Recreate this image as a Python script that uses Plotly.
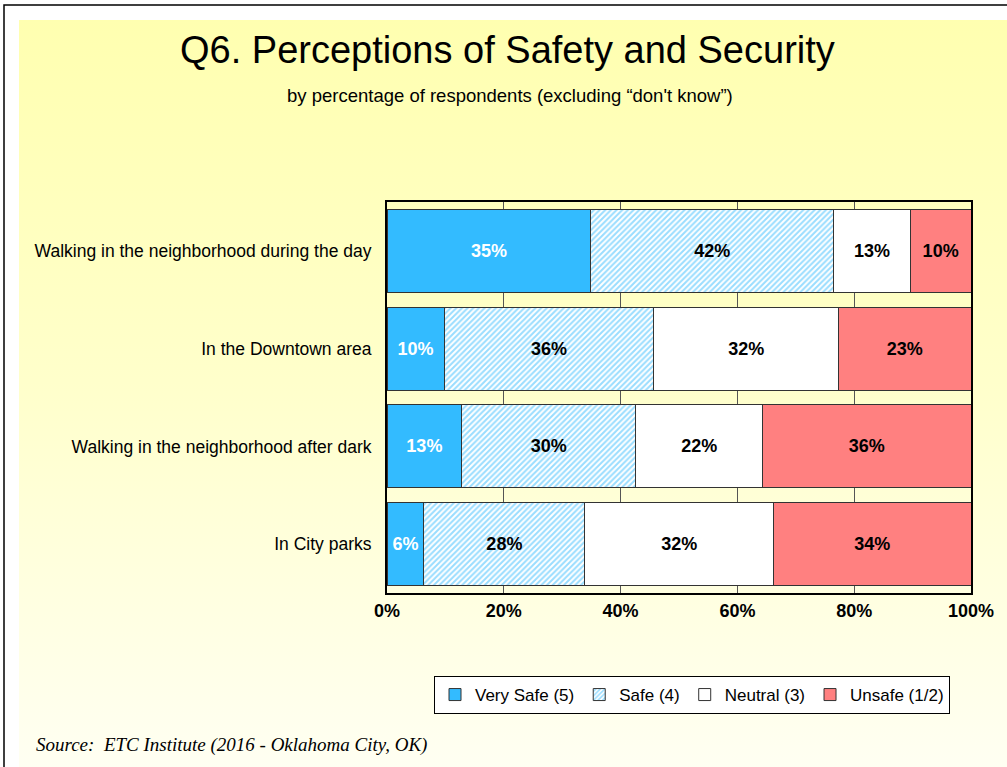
import base64
import plotly.graph_objects as go

categories = [
    "Walking in the neighborhood during the day",
    "In the Downtown area",
    "Walking in the neighborhood after dark",
    "In City parks",
]
series_names = ["Very Safe (5)", "Safe (4)", "Neutral (3)", "Unsafe (1/2)"]
very_safe = [34.9, 9.8, 12.8, 6.3]
safe = [41.6, 35.9, 29.8, 27.6]
neutral = [13.1, 31.6, 21.7, 32.3]
unsafe = [10.4, 22.7, 35.7, 33.8]
x_ticks = [0, 20, 40, 60, 80, 100]
x_tick_labels = ["0%", "20%", "40%", "60%", "80%", "100%"]

W, H = 1007, 767
L, R, T, B = 387, 971, 202, 593
FONT = "Arial, Liberation Sans, sans-serif"


def px(x):
    return (x - L) / (R - L)


def py(y):
    return (B - y) / (B - T)


fig = go.Figure()

styles = [
    dict(color="#33BBFF", textcolor="white", pattern=None),
    dict(color="white", textcolor="black",
         pattern=dict(shape="/", fgcolor="#33BBFF", bgcolor="white", size=4, solidity=0.5)),
    dict(color="white", textcolor="black", pattern=None),
    dict(color="#FF8080", textcolor="black", pattern=None),
]
for name, vals, st in zip(series_names, [very_safe, safe, neutral, unsafe], styles):
    marker = dict(color=st["color"], line=dict(color="#333333", width=1))
    if st["pattern"]:
        marker["pattern"] = st["pattern"]
    fig.add_trace(go.Bar(
        y=categories, x=vals, name=name, orientation="h",
        marker=marker,
        texttemplate="%{x:.0f}%", textposition="inside", insidetextanchor="middle",
        textangle=0, constraintext="none",
        textfont=dict(family=FONT, size=18, color=st["textcolor"], weight="bold"),
    ))

svg = (
    '<svg xmlns="http://www.w3.org/2000/svg" width="100" height="100" preserveAspectRatio="none">'
    '<defs><linearGradient id="g" x1="0" y1="0" x2="0" y2="1">'
    '<stop offset="0" stop-color="#FFFFB0"/>'
    '<stop offset="0.5" stop-color="#FFFFCC"/>'
    '<stop offset="1" stop-color="#FFFFF2"/>'
    '</linearGradient></defs>'
    '<rect width="100" height="100" fill="url(#g)"/></svg>'
)
src = "data:image/svg+xml;base64," + base64.b64encode(svg.encode()).decode()

fig.update_layout(
    width=W, height=H,
    barmode="stack", bargap=0.15,
    paper_bgcolor="white", plot_bgcolor="white",
    margin=dict(l=L, r=W - R, t=T, b=H - B),
    font=dict(family=FONT, size=17.5, color="black"),
    showlegend=True,
    legend=dict(
        orientation="h", x=px(692), xanchor="center", y=py(676), yanchor="top",
        bgcolor="white", bordercolor="black", borderwidth=1,
        font=dict(family=FONT, size=17, color="black"),
        traceorder="normal", itemwidth=30,
    ),
    xaxis=dict(
        range=[0, 100], tickvals=x_ticks, ticktext=x_tick_labels,
        tickfont=dict(family=FONT, size=18, color="black", weight="bold"),
        showline=True, linecolor="black", linewidth=2, mirror=True,
        showgrid=True, gridcolor="#555555", gridwidth=1, zeroline=False,
        ticks="", fixedrange=True,
    ),
    yaxis=dict(
        autorange="reversed", showline=True, linecolor="black", linewidth=2, mirror=True,
        tickfont=dict(family=FONT, size=17.5, color="black"), ticks="",
        ticklabelstandoff=10, fixedrange=True,
    ),
    images=[dict(
        source=src, xref="paper", yref="paper",
        x=px(19), y=py(20), sizex=px(W) - px(19), sizey=py(20) - py(H),
        xanchor="left", yanchor="top", sizing="stretch", layer="below",
    )],
    shapes=[dict(
        type="rect", xref="paper", yref="paper",
        x0=px(4), x1=px(W + 5), y0=py(5), y1=py(H + 5),
        line=dict(color="black", width=1.5), fillcolor="rgba(0,0,0,0)", layer="above",
    )],
    annotations=[
        dict(text="Q6. Perceptions of Safety and Security", xref="paper", yref="paper",
             x=px(507), y=py(50), xanchor="center", yanchor="middle", showarrow=False,
             font=dict(family=FONT, size=38, color="black")),
        dict(text="by percentage of respondents (excluding \u201cdon't know\u201d)", xref="paper", yref="paper",
             x=px(510), y=py(95), xanchor="center", yanchor="middle", showarrow=False,
             font=dict(family=FONT, size=18.5, color="black")),
        dict(text="<i>Source:  ETC Institute (2016 - Oklahoma City, OK)</i>", xref="paper", yref="paper",
             x=px(34), y=py(745), xanchor="left", yanchor="middle", showarrow=False,
             font=dict(family="Times New Roman, Liberation Serif, serif", size=19, color="black")),
    ],
)

fig.write_html("out.html", config={"displayModeBar": False},
               post_script="document.body.style.margin='0px';")
